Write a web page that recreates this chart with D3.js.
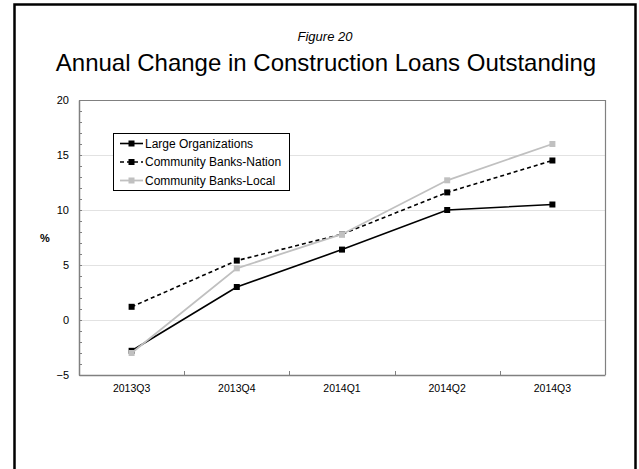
<!DOCTYPE html>
<html>
<head>
<meta charset="utf-8">
<script src="https://cdn.jsdelivr.net/npm/d3@7"></script>
<style>
  body { margin: 0; background: #fff; }
  svg { display: block; font-family: "Liberation Sans", Arial, sans-serif; }
</style>
</head>
<body>
<div id="chart"></div>
<script>
(function(){
    var width = 639;
    var height = 469;

    var margin = { top: 100, right: 34, bottom: 94, left: 79 };

    // quarters and series values (% change, year over year)
    var quarters = ["2013Q3", "2013Q4", "2014Q1", "2014Q2", "2014Q3"];
    var largeOrgs = [-2.8, 3.0, 6.4, 10.0, 10.5];
    var cbNation = [1.2, 5.4, 7.8, 11.6, 14.5];
    var cbLocal = [-3.0, 4.7, 7.8, 12.7, 16.0];
    var seriesNames = ["Large Organizations", "Community Banks-Nation", "Community Banks-Local"];
    var yTicks = [-5, 0, 5, 10, 15, 20];

    var series = [
        { name: seriesNames[0], values: largeOrgs, colour: "#000", dash: null, width: 1.6 },
        { name: seriesNames[1], values: cbNation, colour: "#000", dash: "4,3", width: 1.6 },
        { name: seriesNames[2], values: cbLocal, colour: "#c0c0c0", dash: null, width: 1.8 }
    ];

    var svg = d3.select("#chart")
        .append("svg")
            .attr("width", width)
            .attr("height", height);

    // outer frame
    svg.append("rect")
        .attr("x", 14.5)
        .attr("y", 4.5)
        .attr("width", 621)
        .attr("height", height + 10)
        .attr("fill", "none")
        .attr("stroke", "#000")
        .attr("stroke-width", 2.5);

    svg.append("text")
        .attr("x", 325)
        .attr("y", 41)
        .attr("text-anchor", "middle")
        .attr("font-size", "13px")
        .attr("font-style", "italic")
        .text("Figure 20");

    svg.append("text")
        .attr("x", 326)
        .attr("y", 71)
        .attr("text-anchor", "middle")
        .attr("font-size", "24px")
        .text("Annual Change in Construction Loans Outstanding");

    var w = width - margin.left - margin.right;
    var h = height - margin.top - margin.bottom;

    var g = svg.append("g")
        .attr("transform", "translate(" + margin.left + "," + margin.top + ")");

    var xScale = d3.scaleBand()
        .domain(quarters)
        .range([0, w])
        .padding(0);

    var yScale = d3.scaleLinear()
        .domain([-5, 20])
        .range([h, 0]);

    // horizontal gridlines
    g.selectAll(".grid")
        .data(yTicks.slice(1, -1))
        .enter()
        .append("line")
        .attr("class", "grid")
        .attr("x1", 0)
        .attr("x2", w)
        .attr("y1", function(d){ return Math.round(yScale(d)) + 0.5; })
        .attr("y2", function(d){ return Math.round(yScale(d)) + 0.5; })
        .attr("stroke", "#e2e2e2")
        .attr("stroke-width", 1);

    // plot frame (top and right)
    g.append("path")
        .attr("d", "M0.5,0.5H" + (w + 0.5) + "V" + h)
        .attr("fill", "none")
        .attr("stroke", "#808080")
        .attr("stroke-width", 1.2);

    // y axis: minor ticks every unit, labels every 5
    var yMinor = d3.axisLeft(yScale)
        .tickValues(d3.range(-5, 21, 1))
        .tickSize(-3)
        .tickFormat("");

    var yAxis = d3.axisLeft(yScale)
        .tickValues(yTicks)
        .tickSize(0)
        .tickPadding(10);

    g.append("g")
        .attr("class", "y minor")
        .call(yMinor)
        .call(function(s){
            s.select(".domain").remove();
            s.selectAll(".tick line").attr("stroke", "#808080");
        });

    g.append("g")
        .attr("class", "y axis")
        .call(yAxis)
        .call(function(s){
            s.select(".domain").attr("stroke", "#808080").attr("stroke-width", 1.5);
            s.selectAll(".tick text")
                .attr("font-size", "11px")
                .attr("fill", "#000")
                .attr("font-family", '"Liberation Sans", Arial, sans-serif');
        });

    // x axis: ticks between categories
    var xAxis = d3.axisBottom(xScale)
        .tickSize(0)
        .tickPadding(10);

    var xg = g.append("g")
        .attr("class", "x axis")
        .attr("transform", "translate(0," + h + ")")
        .call(xAxis);

    xg.select(".domain").attr("stroke", "#808080").attr("stroke-width", 1.5);
    xg.selectAll(".tick text")
        .attr("font-size", "10.5px")
        .attr("fill", "#000")
        .attr("font-family", '"Liberation Sans", Arial, sans-serif');

    xg.selectAll(".sep")
        .data(quarters.slice(1))
        .enter()
        .append("line")
        .attr("class", "sep")
        .attr("x1", function(d){ return Math.round(xScale(d)) + 0.5; })
        .attr("x2", function(d){ return Math.round(xScale(d)) + 0.5; })
        .attr("y1", 0)
        .attr("y2", -4)
        .attr("stroke", "#808080");

    svg.append("text")
        .attr("x", 45)
        .attr("y", margin.top + h / 2 + 4)
        .attr("text-anchor", "middle")
        .attr("font-size", "11px")
        .attr("font-weight", "bold")
        .text("%");

    var line = d3.line()
        .x(function(d, i){ return xScale(quarters[i]) + xScale.bandwidth() / 2; })
        .y(function(d){ return yScale(d); });

    var lines = g.selectAll(".series")
        .data(series)
        .enter()
        .append("g")
        .attr("class", "series");

    lines.append("path")
        .attr("d", function(d){ return line(d.values); })
        .attr("fill", "none")
        .attr("stroke", function(d){ return d.colour; })
        .attr("stroke-width", function(d){ return d.width; })
        .attr("stroke-dasharray", function(d){ return d.dash; });

    lines.selectAll(".marker")
        .data(function(d){
            return d.values.map(function(v, i){ return { v: v, i: i, colour: d.colour }; });
        })
        .enter()
        .append("rect")
        .attr("class", "marker")
        .attr("x", function(d){ return xScale(quarters[d.i]) + xScale.bandwidth() / 2 - 3; })
        .attr("y", function(d){ return yScale(d.v) - 3; })
        .attr("width", 6)
        .attr("height", 6)
        .attr("fill", function(d){ return d.colour; });

    // legend
    var legend = svg.append("g")
        .attr("class", "legend")
        .attr("transform", "translate(113,133)");

    legend.append("rect")
        .attr("x", 0.5)
        .attr("y", 0.5)
        .attr("width", 176)
        .attr("height", 57)
        .attr("fill", "#fff")
        .attr("stroke", "#000")
        .attr("stroke-width", 1);

    var items = legend.selectAll(".item")
        .data(series)
        .enter()
        .append("g")
        .attr("class", "item")
        .attr("transform", function(d, i){ return "translate(7," + (10.5 + i * 18.5) + ")"; });

    items.append("line")
        .attr("x1", 0)
        .attr("x2", 23)
        .attr("y1", 0)
        .attr("y2", 0)
        .attr("stroke", function(d){ return d.colour; })
        .attr("stroke-width", function(d){ return d.width; })
        .attr("stroke-dasharray", function(d){ return d.dash; });

    items.append("rect")
        .attr("x", 8.5)
        .attr("y", -3)
        .attr("width", 6)
        .attr("height", 6)
        .attr("fill", function(d){ return d.colour; });

    items.append("text")
        .attr("x", 25)
        .attr("dy", "0.35em")
        .attr("font-size", "12px")
        .text(function(d){ return d.name; });
})();
</script>
</body>
</html>
